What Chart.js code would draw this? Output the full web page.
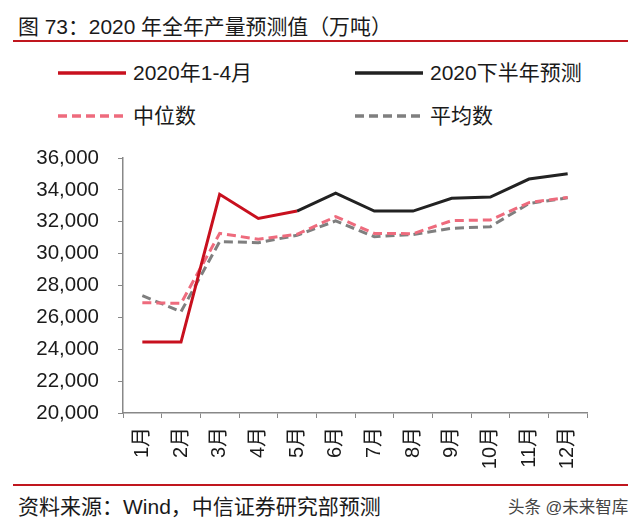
<!DOCTYPE html>
<html><head><meta charset="utf-8">
<script src="https://cdn.jsdelivr.net/npm/chart.js@4/dist/chart.umd.min.js"></script>
<style>
html,body{margin:0;padding:0;background:#fff;width:640px;height:531px;overflow:hidden;font-family:"Liberation Sans","Noto Sans CJK SC",sans-serif;color:#1a1a1a;}
#title{position:absolute;left:18px;top:14px;font-size:20.9px;line-height:26px;white-space:nowrap;}
.rule{position:absolute;left:13px;width:615px;height:2px;background:#c0161e;}
#src{position:absolute;left:18px;top:494px;font-size:21px;line-height:26px;white-space:nowrap;}
#wm{position:absolute;left:508px;top:497px;font-size:16.5px;line-height:20px;color:#444;white-space:nowrap;}
.lg{position:absolute;font-size:21px;line-height:26px;white-space:nowrap;display:flex;align-items:center;}
.lg svg{margin-right:7px;}
#wrap{position:absolute;left:0;top:140px;width:640px;height:340px;}
</style></head><body>
<div id="title">图 73：2020 年全年产量预测值（万吨）</div>
<div class="rule" style="top:40px"></div>
<div id="legend"></div>
<div id="wrap"><canvas id="c" width="640" height="340"></canvas></div>
<div class="rule" style="top:484px"></div>
<div id="src">资料来源：Wind，中信证券研究部预测</div>
<div id="wm">头条 @未来智库</div>
<script>
const categories = ["1月","2月","3月","4月","5月","6月","7月","8月","9月","10月","11月","12月"];
const actual2020 = [24450,24450,33720,32210,32670,null,null,null,null,null,null,null];
const forecastH2 = [null,null,null,null,32670,33790,32670,32670,33470,33550,34680,35010];
const medianVals = [26920,26880,31270,30900,31210,32320,31270,31250,32070,32110,33200,33530];
const meanVals   = [27360,26360,30750,30690,31150,32050,31060,31200,31590,31690,33150,33500];
const yTicks = [20000,22000,24000,26000,28000,30000,32000,34000,36000];
const seriesNames = ["2020年1-4月","2020下半年预测","中位数","平均数"];
const colors = ["#c8101e","#222222","#ee6b7d","#7f7f7f"];
const dashes = [[],[],[9,5],[9,5]];

// HTML legend
const legendPos = [[58,60],[355,60],[58,103],[355,103]];
const lg = document.getElementById('legend');
seriesNames.forEach((n,i)=>{
  const d = document.createElement('div');
  d.className='lg';
  d.style.left=legendPos[i][0]+'px';
  d.style.top=legendPos[i][1]+'px';
  d.innerHTML = `<svg width="68" height="6"><line x1="0" y1="3" x2="68" y2="3" stroke="${colors[i]}" stroke-width="3.5" stroke-dasharray="${dashes[i].join(' ')}"/></svg><span>${n}</span>`;
  lg.appendChild(d);
});

const mk = (data,i,order)=>({label:seriesNames[i],data,borderColor:colors[i],backgroundColor:colors[i],borderWidth:3,borderDash:dashes[i],pointRadius:0,tension:0,spanGaps:false,order});
new Chart(document.getElementById('c'),{
  type:'line',
  data:{labels:categories,datasets:[mk(meanVals,3,4),mk(medianVals,2,3),mk(forecastH2,1,2),mk(actual2020,0,1)]},
  options:{
    responsive:false,animation:false,
    layout:{padding:{top:18,right:53,left:0,bottom:0}},
    plugins:{legend:{display:false},tooltip:{enabled:false}},
    scales:{
      x:{offset:true,
        grid:{display:true,drawOnChartArea:false,offset:true,tickLength:5,color:'#888'},
        border:{color:'#888',width:1.5},
        ticks:{color:'#1a1a1a',font:{size:20,family:'"Liberation Sans","Noto Sans CJK SC",sans-serif'},minRotation:90,maxRotation:90,padding:9},
        afterFit:s=>{s.height=67;}
      },
      y:{min:20000,max:36000,
        afterBuildTicks:s=>{s.ticks=yTicks.map(v=>({value:v}));},
        grid:{display:true,drawOnChartArea:false,tickLength:5,color:'#888'},
        border:{color:'#888',width:1.5},
        ticks:{color:'#1a1a1a',font:{size:20.5,family:'"Liberation Sans",sans-serif'},padding:19,
          callback:v=>v.toLocaleString('en-US')},
        afterFit:s=>{s.width=123;s.paddingTop=0;s.paddingBottom=0;}
      }
    }
  }
});
</script>
</body></html>
